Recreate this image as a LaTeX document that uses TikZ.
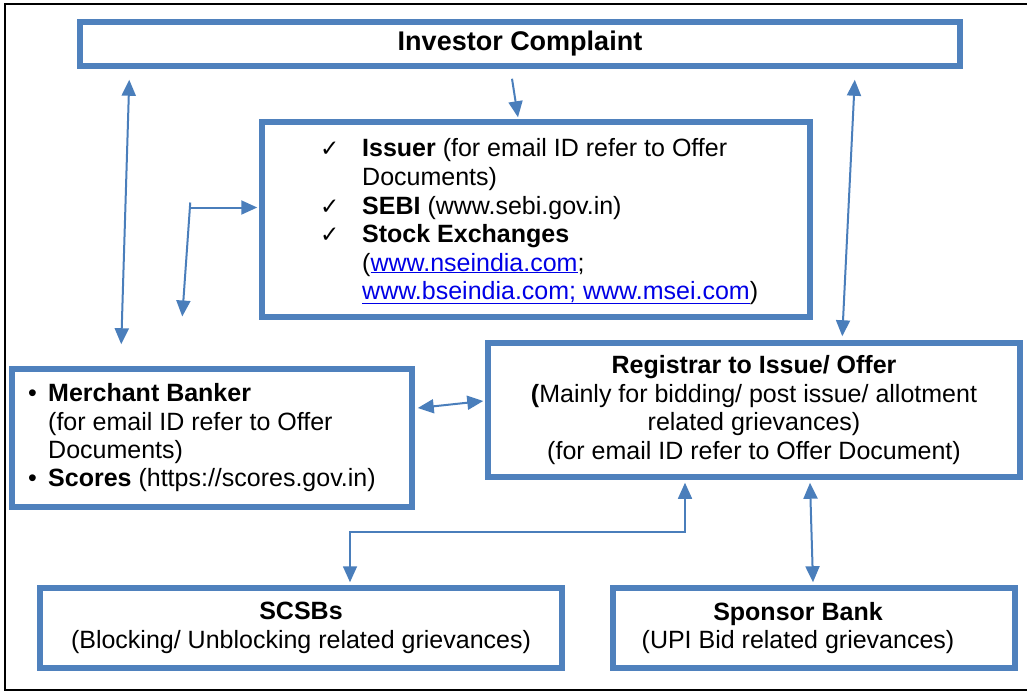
\documentclass[tikz,border=0pt]{standalone}
\usepackage{fontspec}
\setmainfont{Liberation Sans}
\newfontfamily\symfont{DejaVu Sans}
\usetikzlibrary{arrows.meta,calc}
\definecolor{boxblue}{RGB}{79,129,189}
\definecolor{arrowblue}{RGB}{74,126,187}
\definecolor{linkblue}{RGB}{0,0,230}
\newcommand\lnk[1]{\textcolor{linkblue}{\underline{#1}}}

\begin{document}
\begin{tikzpicture}[x=1pt,y=-1pt,
  box/.style={draw=boxblue,line width=5.5pt,inner sep=0pt,fill=white},
  body/.style={font=\fontsize{25}{28.7}\selectfont},
  txt/.style={body,anchor=base west,inner sep=0pt},
  chk/.style={anchor=base west,inner sep=0pt,font=\symfont\fontsize{23}{26}\selectfont},
  arr/.style={draw=arrowblue,line width=2pt,-{Triangle[length=16pt,width=14pt]}},
  dbl/.style={draw=arrowblue,line width=2pt,{Triangle[length=16pt,width=14pt]}-{Triangle[length=16pt,width=14pt]}}]

\useasboundingbox (0,0) rectangle (1027,694);

% outer frame
\draw[black,line width=2.5pt] (1030,4) -- (5,4) -- (5,690) -- (1030,690);

% boxes
\node[box,minimum width=880pt,minimum height=44pt,align=center,
      font=\fontsize{27}{31}\selectfont\bfseries] (inv) at (520,44) {Investor Complaint};
\node[box,minimum width=548pt,minimum height=195pt] (iss) at (536,219.5) {};
\node[box,minimum width=400pt,minimum height=138pt] (mb) at (212,438) {};
\node[box,minimum width=532pt,minimum height=134pt,body,align=center] (reg) at (754,410)
  {\textbf{Registrar to Issue/ Offer}\\\textbf{(}Mainly for bidding/ post issue/ allotment\\related grievances)\\(for email ID refer to Offer Document)};
\node[box,minimum width=522pt,minimum height=80pt,body,align=center] (scsb) at (301,628)
  {\textbf{SCSBs}\\(Blocking/ Unblocking related grievances)};
\node[box,minimum width=402pt,minimum height=80pt] (spb) at (814,628) {};
\node[body,align=center,inner sep=0pt] (spbt) at (798,628)
  {\textbf{Sponsor Bank}\\(UPI Bid related grievances)};

% contacts listed in the upper box
\node[chk] (c1) at (320,156) {✓};
\node[chk] (c2) at (320,214) {✓};
\node[chk] (c3) at (320,242) {✓};
\node[txt] (i1) at (362,156) {\textbf{Issuer} (for email ID refer to Offer};
\node[txt] (i2) at (362,185) {Documents)};
\node[txt] (i3) at (362,214) {\textbf{SEBI} (www.sebi.gov.in)};
\node[txt] (i4) at (362,242) {\textbf{Stock Exchanges}};
\node[txt] (i5) at (362,271) {(\lnk{www.nseindia.com};};
\node[txt] (i6) at (362,299) {\lnk{www.bseindia.com; www.msei.com})};

% merchant banker box
\node[txt] (b1) at (28,401) {•};
\node[txt] (b2) at (28,486) {•};
\node[txt] (m1) at (48,401) {\textbf{Merchant Banker}};
\node[txt] (m2) at (48,430) {(for email ID refer to Offer};
\node[txt] (m3) at (48,458) {Documents)};
\node[txt] (m4) at (48,486) {\textbf{Scores} (https://scores.gov.in)};

% connectors
\coordinate (lt) at ($(inv.south west)+(52,11)$);
\coordinate (lb) at ($(mb.north west)+(112,-22)$);
\draw[dbl] (lt) -- (lb);

\coordinate (rt) at ($(inv.south east)+(-108,11)$);
\coordinate (rb) at ($(reg.north west)+(357,-4)$);
\draw[dbl] (rt) -- (rb);

\coordinate (ms) at ($(inv.south)+(-8,10)$);
\draw[arr] (ms) -- ($(iss.north)+(-18,-2)$);

\coordinate (ec) at ($(iss.west)+(-69,-17)$);
\coordinate (eh) at ($(iss.west)+(-69,-12)$);
\coordinate (ed) at ($(iss.west)+(-77,97)$);
\draw[arr] (eh) -- ($(eh -| iss.west)+(-2,0)$);
\draw[arr] (ec) -- (ed);

\draw[dbl] ($(mb.east)+(3,-30)$) -- ($(reg.west)+(-2,-9)$);

\coordinate (hb) at ($(scsb.north)+(49,-53)$);
\draw[dbl,line width=1.6pt] ($(reg.south)+(-69,3)$) |- (hb) -- ($(scsb.north)+(49,-3)$);

\draw[dbl] ($(reg.south)+(56,3)$) -- ($(spb.north)+(-1,-3)$);
\end{tikzpicture}
\end{document}
